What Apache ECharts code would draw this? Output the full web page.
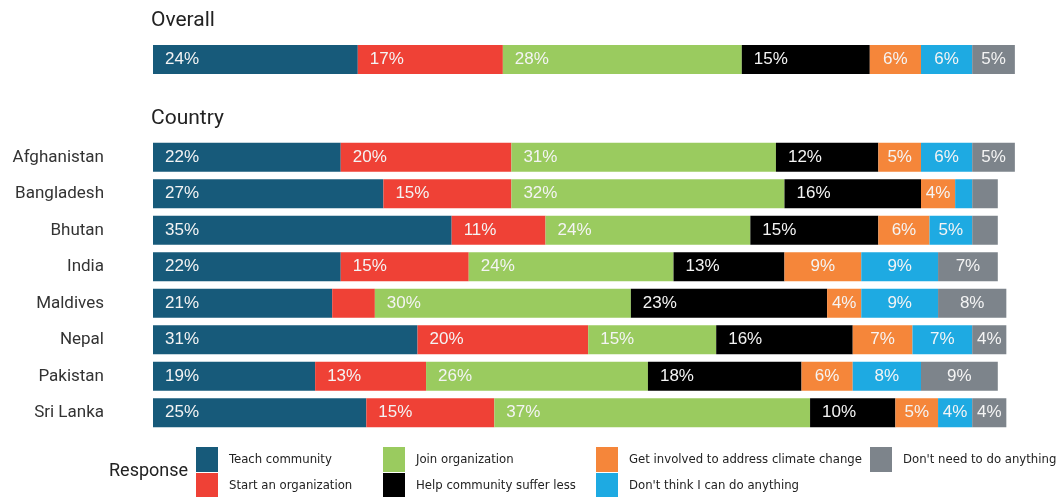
<!DOCTYPE html>
<html>
<head>
<meta charset="utf-8">
<script src="https://cdn.jsdelivr.net/npm/echarts@6/dist/echarts.min.js"></script>
<style>html,body{margin:0;padding:0;background:#fff}#c{width:1058px;height:497px}</style>
</head>
<body>
<div id="c"></div>
<script>
const responses = ['Teach community','Start an organization','Join organization','Help community suffer less','Get involved to address climate change',"Don't think I can do anything","Don't need to do anything"];
const overall = [24, 17, 28, 15, 6, 6, 5];
const countries = ['Afghanistan','Bangladesh','Bhutan','India','Maldives','Nepal','Pakistan','Sri Lanka'];
const teachCommunity = [22, 27, 35, 22, 21, 31, 19, 25];
const startOrganization = [20, 15, 11, 15, 5, 20, 13, 15];
const joinOrganization = [31, 32, 24, 24, 30, 15, 26, 37];
const helpSufferLess = [12, 16, 15, 13, 23, 16, 18, 10];
const getInvolved = [5, 4, 6, 9, 4, 7, 6, 5];
const dontThinkCan = [6, 2, 5, 9, 9, 7, 8, 4];
const dontNeed = [5, 3, 3, 7, 8, 4, 9, 4];
const countrySeries = [teachCommunity, startOrganization, joinOrganization, helpSufferLess, getInvolved, dontThinkCan, dontNeed];
// labels not printed in the source
const unlabeled = [['Start an organization', 'Maldives']];

const colors = ['#175a7a','#ef4136','#9acb5f','#000000','#f5863a','#1eaae2','#7d848b'];
const labelFont = 'Liberation Sans, Arial, sans-serif';
const condFont = 'Roboto, "Noto Sans", sans-serif';
const narrowFont = '"DejaVu Sans Condensed", sans-serif';

function labelFor(v, hide) {
  if (hide || v < 4) return { show: false };
  if (v >= 10) return { show: true, position: 'insideLeft', distance: 12 };
  return { show: true, position: 'inside' };
}

const series = [];
responses.forEach((r, i) => {
  series.push({
    name: r, type: 'bar', stack: 'o', xAxisIndex: 0, yAxisIndex: 0, barWidth: 29,
    itemStyle: { color: colors[i] },
    label: { color: '#f4f4f4', fontSize: 17, fontFamily: labelFont, formatter: '{c}%' },
    data: [{ value: overall[i], label: labelFor(overall[i], false) }]
  });
});
responses.forEach((r, i) => {
  series.push({
    name: r, type: 'bar', stack: 'c', xAxisIndex: 1, yAxisIndex: 1, barWidth: 29,
    itemStyle: { color: colors[i] },
    label: { color: '#f4f4f4', fontSize: 17, fontFamily: labelFont, formatter: '{c}%' },
    data: countrySeries[i].map((v, j) => {
      const hide = unlabeled.some(u => u[0] === r && u[1] === countries[j]);
      return { value: v, label: labelFor(v, hide) };
    })
  });
});

const legendPos = [[196,447],[196,473],[383,447],[383,473],[596,447],[596,473],[870,447]];
const legends = responses.map((r, i) => ({
  data: [r], left: legendPos[i][0], top: legendPos[i][1], orient: 'horizontal',
  itemWidth: 22, itemHeight: 25, icon: 'rect', padding: 0,
  textStyle: { fontSize: 13, fontFamily: narrowFont, color: '#222', padding: [0, 0, 0, 6] },
  selectedMode: false
}));

const chart = echarts.init(document.getElementById('c'));
chart.setOption({
  animation: false,
  title: [
    { text: 'Overall', left: 151, top: 10, padding: 0, textStyle: { fontSize: 21, fontWeight: 'normal', fontFamily: condFont, color: '#222' } },
    { text: 'Country', left: 151, top: 108, padding: 0, textStyle: { fontSize: 21, fontWeight: 'normal', fontFamily: condFont, color: '#222' } }
  ],
  legend: legends,
  graphic: [{ type: 'text', left: 109, top: 462, style: { text: 'Response', fontSize: 18, fontFamily: condFont, fill: '#222' } }],
  grid: [
    { left: 153, right: 9, top: 41, height: 37 },
    { left: 153, right: 9, top: 139, height: 292 }
  ],
  xAxis: [
    { gridIndex: 0, type: 'value', min: 0, max: 105, show: false },
    { gridIndex: 1, type: 'value', min: 0, max: 105, show: false }
  ],
  yAxis: [
    { gridIndex: 0, type: 'category', data: ['Overall'], show: false },
    { gridIndex: 1, type: 'category', data: countries, inverse: true,
      axisLine: { show: false }, axisTick: { show: false },
      axisLabel: { margin: 49, fontSize: 17, fontFamily: condFont, color: '#333' } }
  ],
  series: series
});
</script>
</body>
</html>
